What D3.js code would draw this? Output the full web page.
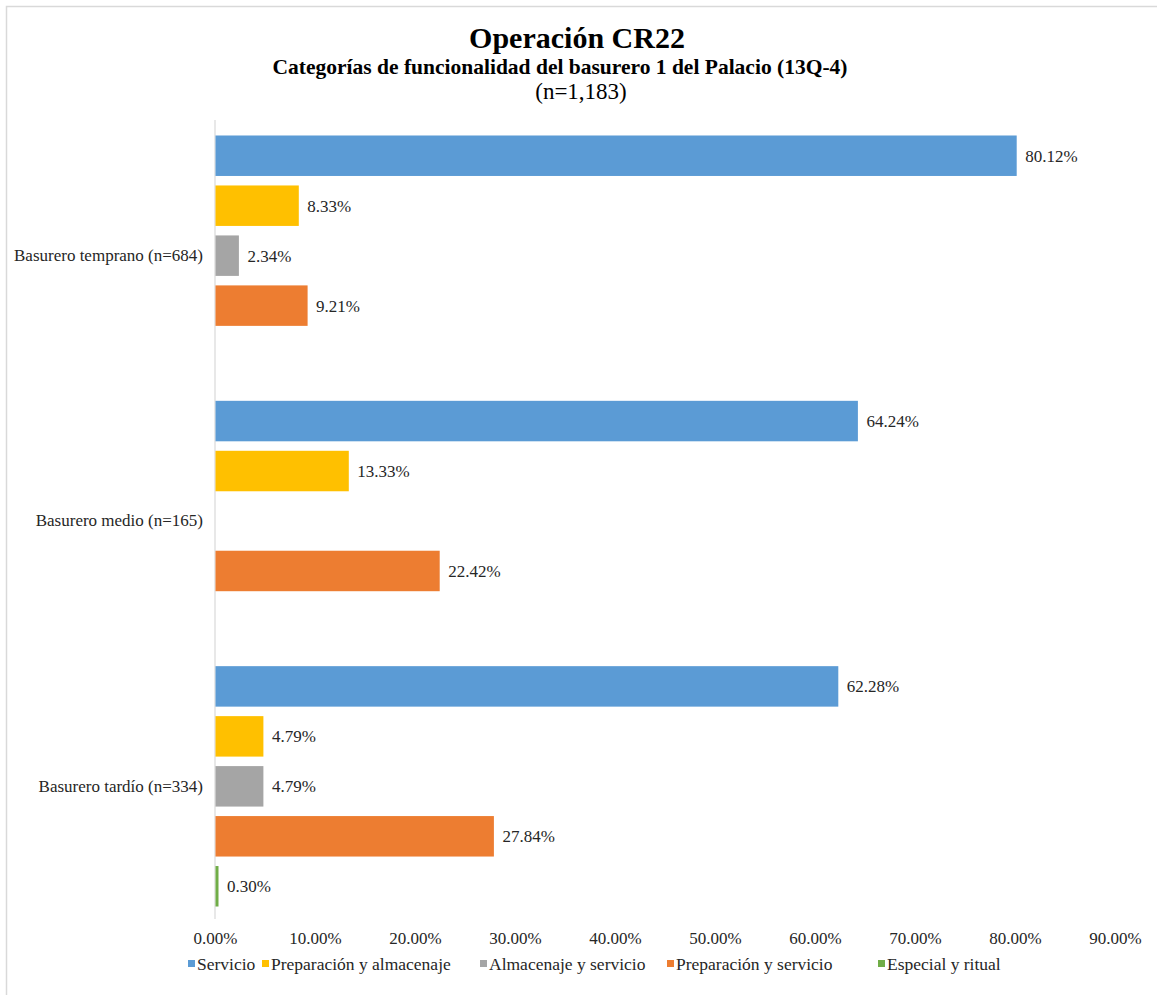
<!DOCTYPE html>
<html>
<head>
<meta charset="utf-8">
<script src="https://cdn.jsdelivr.net/npm/d3@7"></script>
<style>
  html, body { margin: 0; padding: 0; background: #fff; }
  svg { display: block; font-family: "Liberation Serif", "Times New Roman", serif; }
</style>
</head>
<body>
<svg id="chart" width="1157" height="995"></svg>
<script>
// ---- data ----
const groups = ["Basurero temprano (n=684)", "Basurero medio (n=165)", "Basurero tardío (n=334)"];
const seriesNames = ["Servicio", "Preparación y almacenaje", "Almacenaje y servicio", "Preparación y servicio", "Especial y ritual"];
const seriesColors = ["#5B9BD5", "#FFC000", "#A5A5A5", "#ED7D31", "#70AD47"];
const servicio = [80.12, 64.24, 62.28];
const prepAlmacenaje = [8.33, 13.33, 4.79];
const almacenajeServicio = [2.34, null, 4.79];
const prepServicio = [9.21, 22.42, 27.84];
const especialRitual = [null, null, 0.30];
const xTicks = [0, 10, 20, 30, 40, 50, 60, 70, 80, 90];

const seriesValues = [servicio, prepAlmacenaje, almacenajeServicio, prepServicio, especialRitual];

const svg = d3.select("#chart");

// border (top & left visible)
svg.append("rect").attr("x", 6.5).attr("y", 6.5).attr("width", 1160).attr("height", 1000)
  .attr("fill", "none").attr("stroke", "#d9d9d9").attr("stroke-width", 1.5);

// titles
svg.append("text").attr("x", 577).attr("y", 48).attr("text-anchor", "middle")
  .attr("font-size", 30).attr("font-weight", "bold").attr("fill", "#000").text("Operación CR22");
svg.append("text").attr("x", 560).attr("y", 74).attr("text-anchor", "middle")
  .attr("font-size", 21.5).attr("font-weight", "bold").attr("fill", "#000")
  .text("Categorías de funcionalidad del basurero 1 del Palacio (13Q-4)");
svg.append("text").attr("x", 581).attr("y", 99).attr("text-anchor", "middle")
  .attr("font-size", 23).attr("fill", "#000").text("(n=1,183)");

const x = d3.scaleLinear().domain([0, 90]).range([215, 1115]);
const y0 = d3.scaleBand().domain(groups).range([123, 919]).paddingInner(0).paddingOuter(0);
const y1 = d3.scaleBand().domain(seriesNames).range([0, y0.bandwidth()]).paddingInner(0.19).paddingOuter(0.25);

// axis line
svg.append("line").attr("x1", x(0)).attr("x2", x(0)).attr("y1", 120).attr("y2", 919)
  .attr("stroke", "#d9d9d9").attr("stroke-width", 1.2);

// x tick labels
const xAxis = d3.axisBottom(x).tickValues(xTicks).tickSize(0).tickPadding(0)
  .tickFormat(d => d.toFixed(2) + "%");
const gx = svg.append("g").attr("transform", "translate(0,932)").call(xAxis);
gx.select(".domain").remove();
gx.selectAll("text").attr("font-size", 17).attr("font-family", "Liberation Serif, serif").attr("fill", "#262626");

// category labels
const yAxis = d3.axisLeft(y0).tickSize(0).tickPadding(12);
const gy = svg.append("g").attr("transform", `translate(${x(0)},0)`).call(yAxis);
gy.select(".domain").remove();
gy.selectAll("text").attr("font-size", 17).attr("font-family", "Liberation Serif, serif").attr("fill", "#262626");

// bars
const barData = [];
groups.forEach((g, gi) => {
  seriesNames.forEach((s, si) => {
    const v = seriesValues[si][gi];
    if (v !== null && v !== undefined) barData.push({ g, s, si, v });
  });
});

const bars = svg.append("g");
bars.selectAll("rect").data(barData).join("rect")
  .attr("x", x(0) + 0.5)
  .attr("y", d => y0(d.g) + y1(d.s))
  .attr("width", d => Math.max(x(d.v) - x(0), 2.5))
  .attr("height", y1.bandwidth())
  .attr("fill", d => seriesColors[d.si]);

bars.selectAll("text").data(barData).join("text")
  .attr("x", d => Math.max(x(d.v), x(0) + 2.5) + 9)
  .attr("y", d => y0(d.g) + y1(d.s) + y1.bandwidth() / 2)
  .attr("dy", "0.35em")
  .attr("font-size", 17).attr("fill", "#262626")
  .text(d => d.v.toFixed(2) + "%");

// legend
const legendX = [188, 262, 480, 667, 878];
const legend = svg.append("g").attr("transform", "translate(0,964)");
seriesNames.forEach((s, i) => {
  legend.append("rect").attr("x", legendX[i]).attr("y", -4).attr("width", 7).attr("height", 7)
    .attr("fill", seriesColors[i]);
  legend.append("text").attr("x", legendX[i] + 9).attr("y", 0).attr("dy", "0.35em")
    .attr("font-size", 17.5).attr("fill", "#262626").text(s);
});
</script>
</body>
</html>
